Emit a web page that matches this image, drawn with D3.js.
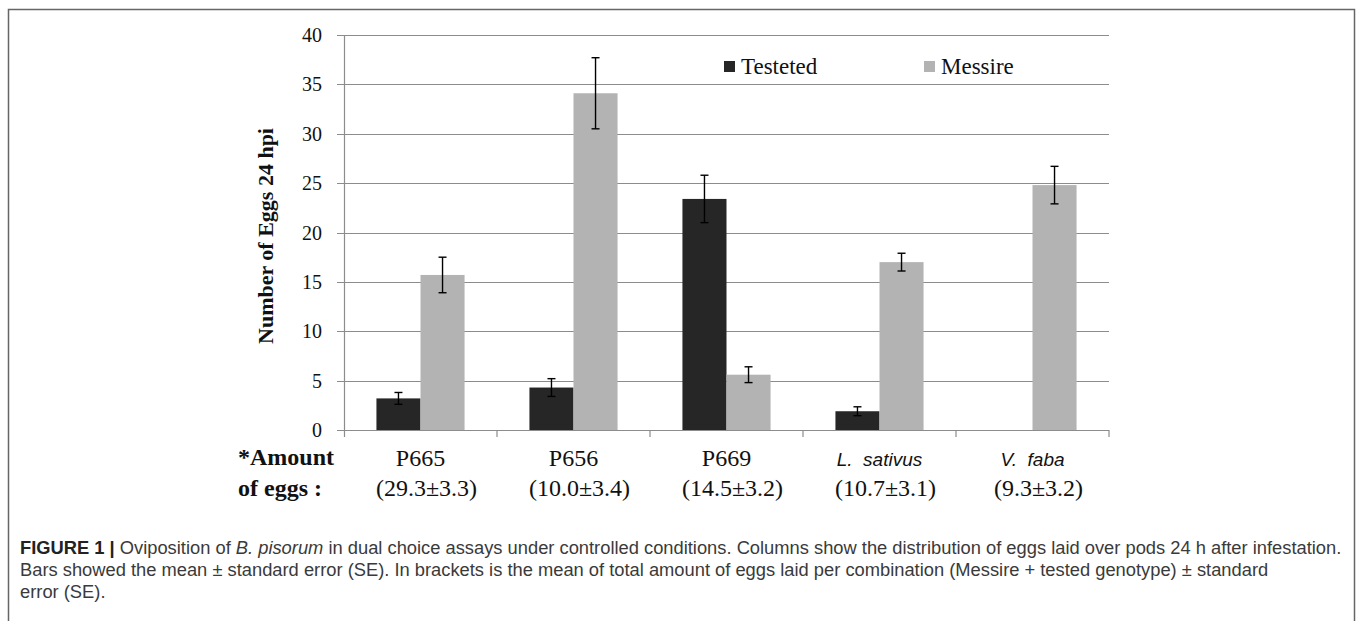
<!DOCTYPE html>
<html>
<head>
<meta charset="utf-8">
<script src="https://cdn.jsdelivr.net/npm/d3@7"></script>
<style>
  body { margin: 0; background: #fff; }
  svg { display: block; }
</style>
</head>
<body>
<div id="chart"></div>
<script>
// donnees
const categories = ["P665", "P656", "P669", "L.  sativus", "V.  faba"];
const italicCats = ["L.  sativus", "V.  faba"];
const totals = ["(29.3±3.3)", "(10.0±3.4)", "(14.5±3.2)", "(10.7±3.1)", "(9.3±3.2)"];
const series = ["Testeted", "Messire"];
const testeted = [3.2, 4.3, 23.4, 1.9, 0];
const testetedSE = [0.6, 0.9, 2.4, 0.45, null];
const messire = [15.7, 34.1, 5.6, 17.0, 24.8];
const messireSE = [1.8, 3.6, 0.8, 0.9, 1.9];
const yTicks = [0, 5, 10, 15, 20, 25, 30, 35, 40];

const W = 1357, H = 621;
const margin = { top: 35, right: 248, bottom: 191, left: 344 };
const width = W - margin.left - margin.right;
const height = H - margin.top - margin.bottom;

const colors = { Testeted: "#262626", Messire: "#b3b3b3" };
const serif = "'Liberation Serif', 'Times New Roman', serif";
const sans = "'Liberation Sans', Arial, sans-serif";

const svg = d3.select("#chart").append("svg")
  .attr("width", W).attr("height", H);

svg.append("rect").attr("width", W).attr("height", H).attr("fill", "#fff");

// cadre de la figure
svg.append("rect")
  .attr("x", 8.5).attr("y", 9.5)
  .attr("width", 1346).attr("height", 700)
  .attr("fill", "none").attr("stroke", "#666").attr("stroke-width", 1.5);

const g = svg.append("g")
  .attr("transform", "translate(" + margin.left + "," + margin.top + ")");

const y = d3.scaleLinear().domain([0, 40]).range([height, 0]);
const x = d3.scaleBand().domain(categories).range([0, width]).paddingInner(0).paddingOuter(0);
const barW = x.bandwidth() * 0.288;
const xs = d3.scaleBand().domain(series).range([x.bandwidth() / 2 - barW, x.bandwidth() / 2 + barW]);

// grille
g.selectAll("line.grid").data(yTicks).join("line")
  .attr("class", "grid")
  .attr("x1", -7).attr("x2", width)
  .attr("y1", d => Math.round(y(d)) + 0.5).attr("y2", d => Math.round(y(d)) + 0.5)
  .attr("stroke", "#8c8c8c").attr("stroke-width", 1.2);

// axe y
g.append("line")
  .attr("x1", 0.5).attr("x2", 0.5).attr("y1", 0).attr("y2", height + 7)
  .attr("stroke", "#8c8c8c").attr("stroke-width", 1.2);

g.selectAll("text.ytick").data(yTicks).join("text")
  .attr("class", "ytick")
  .attr("x", -22).attr("y", d => y(d))
  .attr("dy", "0.35em")
  .attr("text-anchor", "end")
  .style("font-family", serif)
  .style("font-size", "20px")
  .attr("fill", "#111")
  .text(d => d);

// graduations de l'axe x
const bounds = categories.map(c => x(c) + x.bandwidth());
g.selectAll("line.xtick").data(bounds).join("line")
  .attr("class", "xtick")
  .attr("x1", d => d).attr("x2", d => d)
  .attr("y1", height).attr("y2", height + 7)
  .attr("stroke", "#8c8c8c").attr("stroke-width", 1.2);

// barres
const rows = [];
categories.forEach((c, i) => {
  rows.push({ cat: c, s: "Testeted", v: testeted[i], se: testetedSE[i] });
  rows.push({ cat: c, s: "Messire", v: messire[i], se: messireSE[i] });
});

g.selectAll("rect.bar").data(rows.filter(d => d.v > 0)).join("rect")
  .attr("class", "bar")
  .attr("x", d => x(d.cat) + xs(d.s))
  .attr("width", xs.bandwidth())
  .attr("y", d => y(d.v))
  .attr("height", d => y(0) - y(d.v))
  .attr("fill", d => colors[d.s]);

// barres d'erreur
const err = g.selectAll("g.err").data(rows.filter(d => d.se != null)).join("g")
  .attr("class", "err")
  .attr("transform", d => "translate(" + (x(d.cat) + xs(d.s) + xs.bandwidth() / 2) + ",0)");
err.append("line")
  .attr("y1", d => y(d.v + d.se)).attr("y2", d => y(d.v - d.se))
  .attr("stroke", "#000").attr("stroke-width", 1.4);
err.append("line")
  .attr("x1", -4).attr("x2", 4)
  .attr("y1", d => y(d.v + d.se)).attr("y2", d => y(d.v + d.se))
  .attr("stroke", "#000").attr("stroke-width", 1.4);
err.append("line")
  .attr("x1", -4).attr("x2", 4)
  .attr("y1", d => y(d.v - d.se)).attr("y2", d => y(d.v - d.se))
  .attr("stroke", "#000").attr("stroke-width", 1.4);

// titre de l'axe y
svg.append("text")
  .attr("transform", "translate(273,236) rotate(-90)")
  .attr("text-anchor", "middle")
  .style("font-family", serif)
  .style("font-size", "22px")
  .style("font-weight", "bold")
  .attr("fill", "#111")
  .text("Number of Eggs 24 hpi");

// legende
const legend = [{ s: "Testeted", x: 724 }, { s: "Messire", x: 924 }];
const lg = svg.selectAll("g.leg").data(legend).join("g")
  .attr("class", "leg")
  .attr("transform", d => "translate(" + d.x + ",61)");
lg.append("rect").attr("width", 11).attr("height", 11).attr("fill", d => colors[d.s]);
lg.append("text")
  .attr("x", 17).attr("y", 13)
  .style("font-family", serif)
  .style("font-size", "23px")
  .attr("fill", "#111")
  .text(d => d.s);

// etiquettes des categories
g.selectAll("text.cat").data(categories).join("text")
  .attr("class", "cat")
  .attr("x", d => x(d) + x.bandwidth() / 2)
  .attr("y", height + 36)
  .attr("text-anchor", "middle")
  .style("font-family", d => italicCats.includes(d) ? sans : serif)
  .style("font-style", d => italicCats.includes(d) ? "italic" : "normal")
  .style("font-size", d => italicCats.includes(d) ? "19px" : "24px")
  .style("white-space", "pre")
  .attr("fill", "#111")
  .text(d => d);

g.selectAll("text.tot").data(totals).join("text")
  .attr("class", "tot")
  .attr("x", (d, i) => x(categories[i]) + x.bandwidth() / 2 + 6)
  .attr("y", height + 66)
  .attr("text-anchor", "middle")
  .style("font-family", serif)
  .style("font-size", "24px")
  .attr("fill", "#111")
  .text(d => d);

svg.append("text").attr("x", 238).attr("y", 465)
  .style("font-family", serif).style("font-size", "24px").style("font-weight", "bold")
  .attr("fill", "#111").text("*Amount");
svg.append("text").attr("x", 238).attr("y", 496)
  .style("font-family", serif).style("font-size", "24px").style("font-weight", "bold")
  .attr("fill", "#111").text("of eggs :");

// legende de la figure
const cap = svg.append("g")
  .style("font-family", sans)
  .style("font-size", "15px")
  .attr("fill", "#3a3a3a");

const l1 = cap.append("text").attr("x", 20).attr("y", 554);
l1.append("tspan").style("font-weight", "bold").attr("fill", "#222").text("FIGURE 1 | ");
l1.append("tspan").text("Oviposition of ");
l1.append("tspan").style("font-style", "italic").text("B. pisorum");
l1.append("tspan").text(" in dual choice assays under controlled conditions. Columns show the distribution of eggs laid over pods 24 h after infestation.");

cap.append("text").attr("x", 20).attr("y", 576)
  .text("Bars showed the mean ± standard error (SE). In brackets is the mean of total amount of eggs laid per combination (Messire + tested genotype) ± standard");
cap.append("text").attr("x", 20).attr("y", 598).text("error (SE).");

// ajuste la largeur des lignes
const w1 = l1.node().getComputedTextLength();
cap.style("font-size", (15 * 1322 / w1) + "px");
</script>
</body>
</html>
